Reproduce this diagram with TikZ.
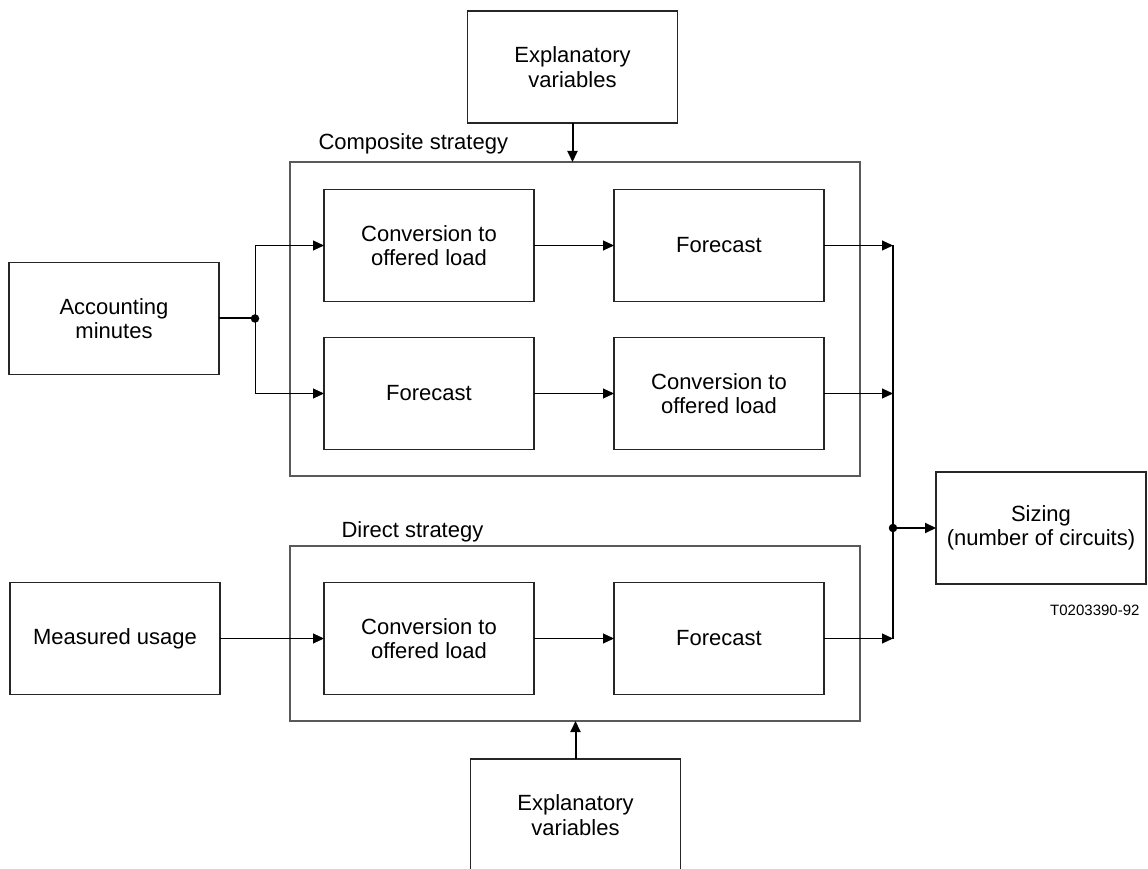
\documentclass[tikz,border=0pt]{standalone}
\usepackage{fontspec}
\setmainfont{Liberation Sans}
\usetikzlibrary{positioning,arrows.meta}

\begin{document}
\begin{tikzpicture}[
x=1pt, y=1pt,
blockbox/.style={rectangle, draw=black!85, line width=1.1pt, minimum width=210pt, minimum height=112pt, outer sep=0pt, inner sep=0pt, align=center, font=\fontsize{22}{24.5}\selectfont},
framebox/.style={rectangle, draw=black!65, line width=1.2pt, outer sep=0pt, inner sep=0pt},
framelabel/.style={anchor=base west, font=\fontsize{22}{24.5}\selectfont},
flow/.style={-{Triangle[length=11pt,width=10pt]}, line width=1pt},
thickflow/.style={-{Triangle[length=11pt,width=10pt]}, line width=2pt},
dot/.style={circle, fill=black, inner sep=0pt, minimum size=8.5pt},
]
\useasboundingbox (0,0) rectangle (1148,868);

%Frames
\node[framebox, minimum width=570pt, minimum height=314pt] (comp) at (575,549) {};
\node[framebox, minimum width=570pt, minimum height=175pt] (dir)  at (575,234.5) {};
\node[framelabel] (compLabel) at ([shift={(25pt,12pt)}]comp.north west) {Composite strategy};
\node[framelabel] (dirLabel)  at ([shift={(48pt,8pt)}]dir.north west) {Direct strategy};

%Nodes
\node[blockbox]      (conv1)    at (429,622.5) {Conversion to\\offered load};
\node[blockbox]      (fc1)      [right=80pt of conv1] {Forecast};
\node[blockbox]      (fc2)      [below=36pt of conv1] {Forecast};
\node[blockbox]      (conv2)    [right=80pt of fc2] {Conversion to\\offered load};
\node[blockbox]      (acc)      at (114,549.5) {Accounting\\minutes};
\node[blockbox]      (conv3)    [below=133pt of fc2] {Conversion to\\offered load};
\node[blockbox]      (fc3)      [right=80pt of conv3] {Forecast};
\node[blockbox]      (meas)     [left=104pt of conv3] {Measured usage};
\node[blockbox]      (expTop)   at (572.5,801) {Explanatory\\variables};
\node[blockbox]      (expBot)   at (575.5,53) {Explanatory\\variables};
\node[blockbox]      (sizing)   at (1041,340) {Sizing\\(number of circuits)};
\node[anchor=base east, font=\fontsize{15}{17}\selectfont] (code) at (1143,252) {T0203390-92};

\coordinate[right=36pt of acc] (split);
\coordinate (bus) at (893,0);

%Lines
\draw[thickflow] (expTop.south) -- (expTop.south |- comp.north);
\draw[thickflow] (expBot.north) -- (expBot.north |- dir.south);
\draw[line width=2pt] (acc.east) -- (split);
\draw[flow] (split) |- (conv1.west);
\draw[flow] (split) |- (fc2.west);
\node[dot] at (split) {};
\draw[flow] (conv1.east) -- (fc1.west);
\draw[flow] (fc2.east) -- (conv2.west);
\draw[flow] (meas.east) -- (conv3.west);
\draw[flow] (conv3.east) -- (fc3.west);
\draw[flow] (fc1.east) -- (fc1.east -| bus);
\draw[flow] (conv2.east) -- (conv2.east -| bus);
\draw[flow] (fc3.east) -- (fc3.east -| bus);
\draw[line width=1.2pt] (fc1.east -| bus) -- (fc3.east -| bus);
\draw[thickflow] (sizing.west -| bus) -- (sizing.west);
\node[dot] at (sizing.west -| bus) {};
\end{tikzpicture}
\end{document}
